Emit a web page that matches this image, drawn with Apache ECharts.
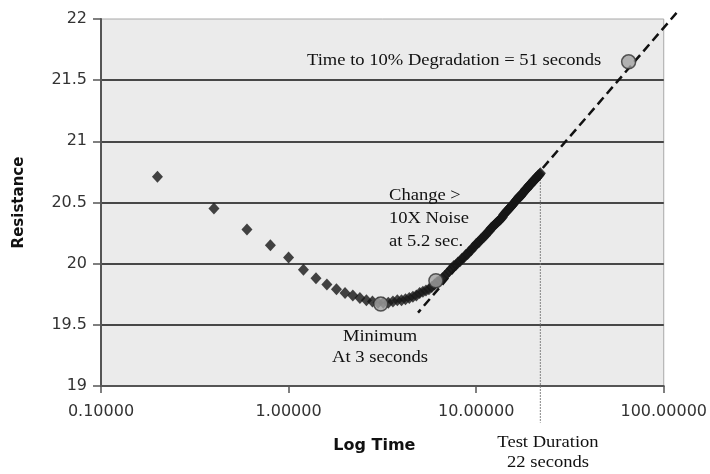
<!DOCTYPE html>
<html>
<head>
<meta charset="utf-8">
<script src="https://cdn.jsdelivr.net/npm/echarts@6/dist/echarts.min.js"></script>
<style>html,body{margin:0;padding:0;background:#fff;}#c{width:710px;height:474px;}</style>
</head>
<body>
<div id="c"></div>
<script>
// Measurement times (seconds)
var times = [0.2,0.4,0.6,0.8,1.0,1.2,1.4,1.6,1.8,2.0,2.2,2.4,2.6,2.8,3.0,3.2,3.4,3.6,3.8,4.0,
  4.2,4.4,4.6,4.8,5.0,5.2,5.4,5.6,5.8,6.0,6.2,6.4,6.6,6.8,7.0,7.2,7.4,7.6,7.8,8.0,
  8.2,8.4,8.6,8.8,9.0,9.2,9.4,9.6,9.8,10.0,10.2,10.4,10.6,10.8,11.0,11.2,11.4,11.6,11.8,12.0,
  12.2,12.4,12.6,12.8,13.0,13.2,13.4,13.6,13.8,14.0,14.2,14.4,14.6,14.8,15.0,15.2,15.4,15.6,15.8,16.0,
  16.2,16.4,16.6,16.8,17.0,17.2,17.4,17.6,17.8,18.0,18.2,18.4,18.6,18.8,19.0,19.2,19.4,19.6,19.8,20.0,
  20.2,20.4,20.6,20.8,21.0,21.2,21.4,21.6,21.8,22.0];
// Measured resistance
var resistance = [20.71,20.45,20.28,20.15,20.05,19.95,19.88,19.83,19.79,19.76,19.74,19.72,19.70,19.69,19.68,19.68,19.68,19.69,19.70,19.70,
  19.71,19.72,19.73,19.74,19.76,19.77,19.78,19.79,19.81,19.83,19.85,19.86,19.88,19.90,19.92,19.94,19.96,19.98,19.99,20.01,
  20.02,20.04,20.05,20.07,20.08,20.10,20.11,20.13,20.14,20.16,20.17,20.18,20.20,20.21,20.22,20.23,20.25,20.26,20.27,20.29,
  20.30,20.31,20.32,20.33,20.34,20.35,20.36,20.37,20.38,20.40,20.41,20.42,20.43,20.44,20.45,20.46,20.47,20.48,20.49,20.50,
  20.51,20.52,20.53,20.54,20.55,20.55,20.56,20.57,20.58,20.59,20.60,20.61,20.61,20.62,20.63,20.64,20.65,20.65,20.66,20.67,
  20.68,20.68,20.69,20.70,20.70,20.71,20.72,20.72,20.73,20.74];
// Key points: minimum, change > 10X noise, 10% degradation
var keyTimes = [3.1, 6.1, 65];
var keyValues = [19.67, 19.86, 21.65];
// Extrapolation trend line endpoints
var trendTimes = [4.9, 117];
var trendValues = [19.60, 22.05];
// Test duration marker
var testTimes = [22, 22];
var testValues = [20.74, 18.70];
// Axis ticks
var yTicks = [19, 19.5, 20, 20.5, 21, 21.5, 22];
var xTicks = [0.1, 1, 10, 100];

function zip(a, b) { return a.map(function (v, i) { return [v, b[i]]; }); }

var chart = echarts.init(document.getElementById('c'));
var serif = '16px "Liberation Serif"';
var sx = 1.16;
chart.setOption({
  animation: false,
  backgroundColor: '#ffffff',
  grid: { left: 101, right: 46, top: 19, bottom: 88, show: true, backgroundColor: '#ebebeb', borderColor: '#a8a8a8', borderWidth: 1 },
  xAxis: {
    type: 'log', logBase: 10, min: xTicks[0], max: xTicks[xTicks.length - 1],
    name: 'Log Time', nameLocation: 'middle', nameGap: 52,
    nameTextStyle: { fontFamily: 'DejaVu Sans', fontWeight: 'bold', fontSize: 16, color: '#111', padding: [0, 16, 0, 0] },
    axisLine: { show: true, lineStyle: { color: '#555', width: 2 } },
    axisTick: { show: true, length: 7, lineStyle: { color: '#555', width: 1.5 } },
    minorTick: { show: false },
    splitLine: { show: false },
    axisLabel: { fontFamily: 'DejaVu Sans', fontSize: 16, color: '#333', margin: 18, formatter: function (v) { return Number(v).toFixed(5); } }
  },
  yAxis: {
    type: 'value', min: yTicks[0], max: yTicks[yTicks.length - 1], interval: 0.5,
    name: 'Resistance', nameLocation: 'middle', nameGap: 74, nameRotate: 90,
    nameTextStyle: { fontFamily: 'DejaVu Sans', fontWeight: 'bold', fontSize: 15, color: '#111' },
    axisLine: { show: true, onZero: false, lineStyle: { color: '#555', width: 2 } },
    axisTick: { show: true, length: 8, lineStyle: { color: '#555', width: 1.5 } },
    splitLine: { show: true, showMinLine: false, showMaxLine: false, lineStyle: { color: '#111', width: 1.5 } },
    axisLabel: { fontFamily: 'DejaVu Sans', fontSize: 16, color: '#333', margin: 14 }
  },
  series: [
    { type: 'custom', clip: false, z: 2,
      data: [[trendTimes[0], trendValues[0], trendTimes[1], trendValues[1]]],
      encode: { x: [0, 2], y: [1, 3] },
      renderItem: function (params, api) {
        var p1 = api.coord([api.value(0), api.value(1)]);
        var p2 = api.coord([api.value(2), api.value(3)]);
        return { type: 'line', shape: { x1: p1[0], y1: p1[1], x2: p2[0], y2: p2[1] },
          style: { stroke: '#111', lineWidth: 2.5, lineDash: [9, 5], lineDashOffset: 5, fill: null } };
      } },
    { type: 'line', data: zip(testTimes, testValues), clip: false, symbol: 'none', z: 2,
      lineStyle: { color: '#777', width: 1.2, type: [1.5, 1.5] } },
    { type: 'scatter', data: zip(times, resistance), symbol: 'diamond', symbolSize: [11, 12], z: 3,
      itemStyle: { color: '#161616' } },
    { type: 'scatter', data: zip(keyTimes, keyValues), symbol: 'circle', symbolSize: 14, z: 4, clip: false,
      itemStyle: { color: '#a3a3a3', borderColor: '#333', borderWidth: 1.5 } }
  ],
  graphic: [
    { type: 'text', x: 307, y: 61, scaleX: sx, style: { text: 'Time to 10% Degradation = 51 seconds', font: serif, fill: '#111', align: 'left', verticalAlign: 'middle' } },
    { type: 'text', x: 389, y: 219, scaleX: sx, style: { text: 'Change >\n10X Noise\nat 5.2 sec.', font: serif, fill: '#111', lineHeight: 23, align: 'left', verticalAlign: 'middle' } },
    { type: 'text', x: 380, y: 347, scaleX: sx, style: { text: 'Minimum\nAt 3 seconds', font: serif, fill: '#111', lineHeight: 21, align: 'center', verticalAlign: 'middle' } },
    { type: 'text', x: 548, y: 453, scaleX: sx, style: { text: 'Test Duration\n22 seconds', font: serif, fill: '#111', lineHeight: 20, align: 'center', verticalAlign: 'middle' } }
  ]
});
</script>
</body>
</html>
